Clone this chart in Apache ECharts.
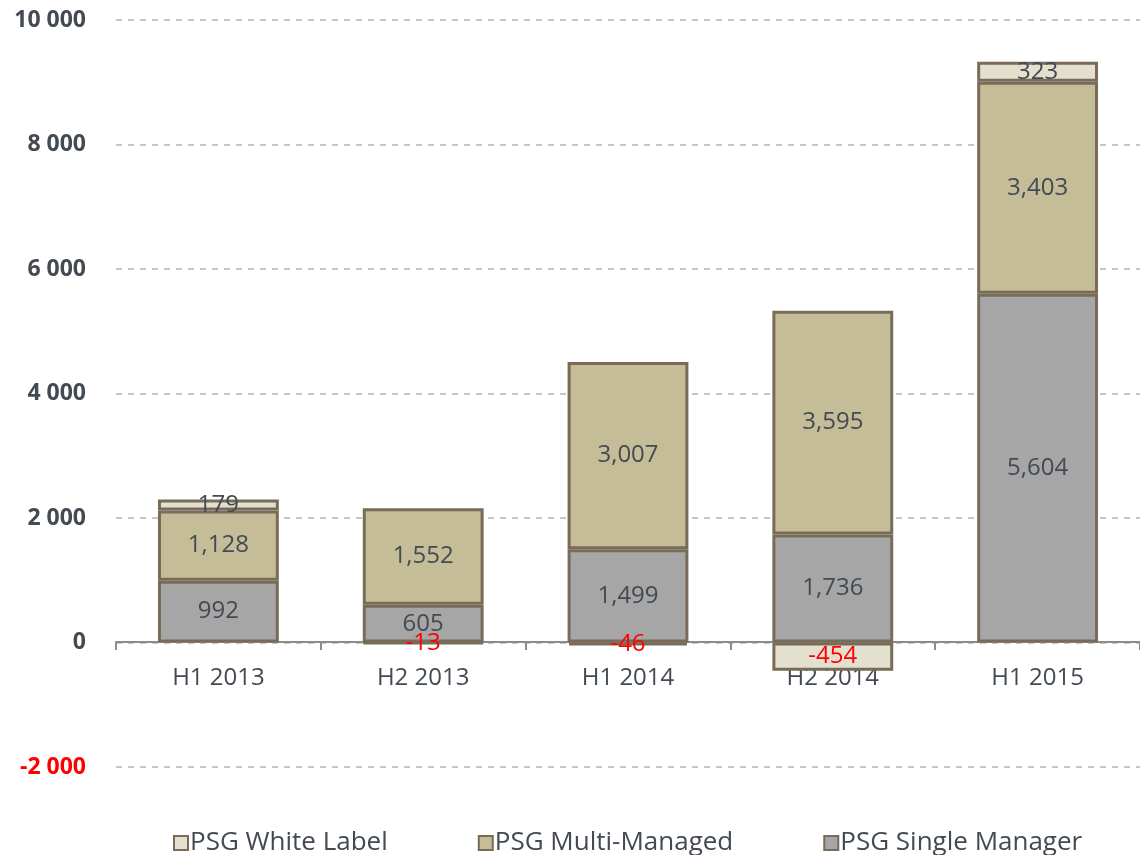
<!DOCTYPE html>
<html>
<head>
<meta charset="UTF-8">
<title>PSG</title>
<script src="https://cdn.jsdelivr.net/npm/echarts@6/dist/echarts.min.js"></script>
<style>
  html, body { margin: 0; padding: 0; background: #fff; }
  #container { width: 1140px; height: 855px; }
</style>
</head>
<body>
<div id="container"></div>
<script>
// chart data
var categories = ['H1 2013', 'H2 2013', 'H1 2014', 'H2 2014', 'H1 2015'];
var singleManager = [992, 605, 1499, 1736, 5604];
var multiManaged = [1128, 1552, 3007, 3595, 3403];
var whiteLabel = [179, -13, -46, -454, 323];
var yTicks = [-2000, 10000, 2000]; // min, max, step

var txt = '#434a52';
var edge = '#786c58';
var font = 'Open Sans';

function withComma(v) {
    return String(v).replace(/\B(?=(\d{3})+(?!\d))/g, ',');
}

function makeSeries(name, data, color) {
    return {
        name: name,
        type: 'bar',
        stack: 'total',
        barWidth: '59%',
        data: data,
        itemStyle: { color: color, borderColor: edge, borderWidth: 3 },
        label: {
            show: true,
            position: 'inside',
            fontFamily: font,
            fontSize: 24,
            formatter: function (p) { return withComma(p.value); },
            color: txt
        },
        emphasis: { disabled: true }
    };
}

var series = [
    makeSeries('PSG Single Manager', singleManager, '#a6a6a6'),
    makeSeries('PSG Multi-Managed', multiManaged, '#c4bd97'),
    makeSeries('PSG White Label', whiteLabel.map(function (v) {
        // negative flows get red labels
        return v < 0 ? { value: v, label: { color: '#ff0000' } } : v;
    }), '#e3e0cf')
];

var myChart = echarts.init(document.getElementById('container'));
var option = {
    animation: false,
    grid: { left: 116, right: 0, top: 20, bottom: 88 },
    legend: {
        top: 825,
        left: 168,
        itemGap: 90,
        itemWidth: 14,
        itemHeight: 14,
        icon: 'rect',
        data: ['PSG White Label', 'PSG Multi-Managed', 'PSG Single Manager'],
        textStyle: { fontFamily: font, fontSize: 26, color: txt, padding: [0, 0, 0, -3] },
        itemStyle: { borderColor: edge, borderWidth: 2 }
    },
    xAxis: {
        type: 'category',
        data: categories,
        offset: -125, // axis sits on the zero line
        axisLine: { onZero: false, lineStyle: { color: '#8c8c8c', width: 2 } },
        axisTick: { show: true, length: 8, lineStyle: { color: '#8c8c8c', width: 2 } },
        axisLabel: { fontFamily: font, fontSize: 24, color: txt, margin: 24 }
    },
    yAxis: {
        type: 'value',
        min: yTicks[0],
        max: yTicks[1],
        interval: yTicks[2],
        axisLine: { show: false },
        axisTick: { show: false },
        splitLine: { lineStyle: { color: '#c6c6c6', type: [6, 6], width: 2 } },
        axisLabel: {
            fontFamily: font,
            fontSize: 23,
            fontWeight: 'bold',
            margin: 30,
            formatter: function (v) {
                return String(v).replace(/\B(?=(\d{3})+(?!\d))/g, ' ');
            },
            color: function (v) { return v < 0 ? '#ff0000' : txt; }
        }
    },
    series: series
};
myChart.setOption(option);
</script>
</body>
</html>
